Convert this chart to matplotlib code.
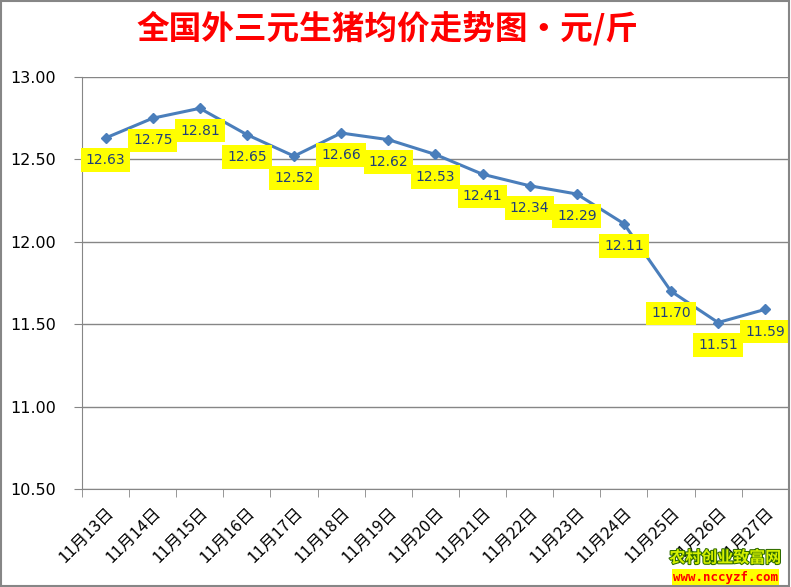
import matplotlib.pyplot as plt
import matplotlib.patheffects as pe
from matplotlib.patches import Rectangle
from matplotlib.ticker import FixedLocator, NullFormatter

plt.rcParams['font.family'] = ['Noto Sans CJK SC', 'DejaVu Sans']

dates = ["11月13日", "11月14日", "11月15日", "11月16日", "11月17日", "11月18日",
         "11月19日", "11月20日", "11月21日", "11月22日", "11月23日", "11月24日",
         "11月25日", "11月26日", "11月27日"]
prices = [12.63, 12.75, 12.81, 12.65, 12.52, 12.66, 12.62, 12.53, 12.41,
          12.34, 12.29, 12.11, 11.70, 11.51, 11.59]

fig = plt.figure(figsize=(7.91, 5.87), dpi=100)
ax = fig.add_axes([0.1037, 0.167, 0.8935, 0.7018])

x = list(range(len(dates)))
ax.plot(x, prices, color="#4A7EBB", lw=2.2, marker="D", ms=5.5, zorder=3)

# подписи значений
for xi, v in zip(x, prices):
    ax.annotate(f"{v:.2f}", (xi, v), xytext=(0, -16), textcoords="offset points",
                ha="center", va="center", fontsize=10, color="#1F3F7A",
                family="DejaVu Sans",
                bbox=dict(boxstyle="square,pad=0.35", fc="#FFFF00", ec="none"),
                zorder=4)

ax.set_xlim(-0.5, len(dates) - 0.5)
ax.set_ylim(10.5, 13.0)
ax.set_yticks([10.5, 11.0, 11.5, 12.0, 12.5, 13.0])
ax.set_yticklabels([f"{t:.2f}" for t in ax.get_yticks()], family="DejaVu Sans")
ax.tick_params(axis="y", labelsize=11.5, length=6, color="#868686", pad=13)
ax.yaxis.grid(True, color="#868686", lw=1)
ax.set_axisbelow(True)

ax.set_xticks(x)
ax.set_xticklabels(dates, rotation=45, ha="right", va="top",
                   rotation_mode="anchor", fontsize=12)
ax.tick_params(axis="x", which="major", length=0, pad=11)
ax.xaxis.set_minor_locator(FixedLocator([i - 0.5 for i in range(len(dates) + 1)]))
ax.xaxis.set_minor_formatter(NullFormatter())
ax.tick_params(axis="x", which="minor", length=6, color="#868686")

for s in ["top", "right"]:
    ax.spines[s].set_visible(False)
for s in ["left", "bottom"]:
    ax.spines[s].set_color("#868686")

fig.text(0.49, 0.952, "全国外三元生猪均价走势图·元/斤", ha="center", va="center",
         fontsize=23.5, fontweight="bold", color="#FF0000")

# водяной знак
fig.text(0.917, 0.05, "农村创业致富网", ha="center", va="center", fontsize=11.5,
         color="#D4F000", fontweight="bold",
         path_effects=[pe.withStroke(linewidth=1.5, foreground="#2E6B00")])
fig.text(0.917, 0.017, "www.nccyzf.com", ha="center", va="center", fontsize=9,
         color="#FF0000", family="DejaVu Sans Mono", fontweight="bold",
         bbox=dict(boxstyle="square,pad=0.1", fc="#FFFF00", ec="none"))

fig.patches.append(Rectangle((0.001, 0.001), 0.997, 0.997, transform=fig.transFigure,
                             fill=False, ec="#868686", lw=1.5))

fig.savefig("out.png", dpi=100)
